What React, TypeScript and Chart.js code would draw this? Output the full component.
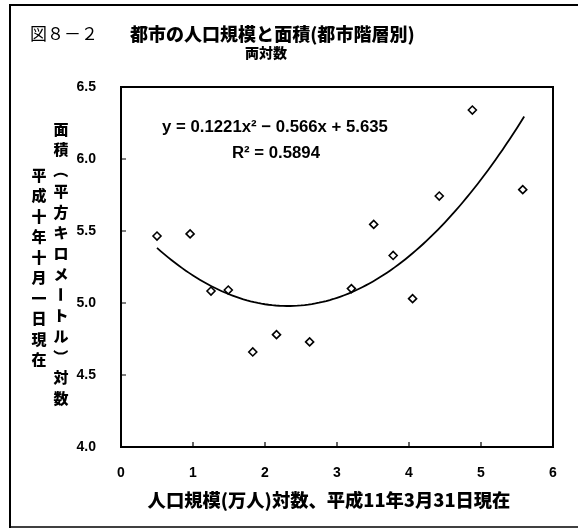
import React, { useEffect, useRef } from "react";
import { Chart, registerables } from "chart.js";
Chart.register(...registerables);

// Data (log population, log area)
const cityX = [0.5, 0.96, 1.25, 1.49, 1.83, 2.16, 2.62, 3.2, 3.51, 3.78, 4.05, 4.42, 4.88, 5.58];
const cityY = [5.465, 5.48, 5.083, 5.09, 4.66, 4.78, 4.73, 5.1, 5.546, 5.33, 5.03, 5.743, 6.34, 5.787];
// Polynomial trendline coefficients: a*x^2 + b*x + c
const trendA = 0.1221;
const trendB = -0.566;
const trendC = 5.635;
const trendFrom = 0.5;
const trendTo = 5.6;

const xMin = 0, xMax = 6, xStep = 1;
const yMin = 4.0, yMax = 6.5, yStep = 0.5;

const titlePrefix = "図８－２";
const titleMain = "都市の人口規模と面積(都市階層別)";
const subTitle = "両対数";
const yLabelCol1 = ["面", "積", "（", "平", "方", "キ", "ロ", "メ", "ー", "ト", "ル", "）", "対", "数"];
const yLabelCol2 = ["平", "成", "十", "年", "十", "月", "一", "日", "現", "在"];
const rotateChars = ["（", "）", "ー"];
const xLabel = "人口規模(万人)対数、平成11年3月31日現在";
const eqText = "y = 0.1221x² − 0.566x + 5.635";
const r2Text = "R² = 0.5894";

const JP = '"Noto Sans CJK JP", sans-serif';
const NUM = '"Liberation Sans", Arial, sans-serif';

function fitFont(ctx: CanvasRenderingContext2D, text: string, weight: string, family: string, base: number, target: number) {
  ctx.font = `${weight} ${base}px ${family}`;
  const w = ctx.measureText(text).width;
  const size = base * target / w;
  ctx.font = `${weight} ${size}px ${family}`;
}

function vChar(ctx: CanvasRenderingContext2D, c: string, x: number, y: number) {
  if (rotateChars.includes(c)) {
    ctx.save();
    ctx.translate(x, y);
    ctx.rotate(Math.PI / 2);
    ctx.fillText(c, 0, 0);
    ctx.restore();
  } else {
    ctx.fillText(c, x, y);
  }
}

const decor = {
  id: "decor",
  afterDraw(chart: any) {
    const ctx: CanvasRenderingContext2D = chart.ctx;
    const area = chart.chartArea;
    const xs = chart.scales.x;
    const ys = chart.scales.y;
    ctx.save();
    // Outer frame
    ctx.strokeStyle = "#000";
    ctx.lineWidth = 2;
    ctx.beginPath();
    ctx.moveTo(10, 528);
    ctx.lineTo(10, 5);
    ctx.lineTo(578, 5);
    ctx.stroke();
    ctx.lineWidth = 1.5;
    ctx.beginPath();
    ctx.moveTo(10, 527);
    ctx.lineTo(578, 527);
    ctx.stroke();

    // Plot box
    ctx.lineWidth = 2;
    ctx.strokeRect(area.left, area.top, area.right - area.left, area.bottom - area.top);
    // Inward ticks
    ctx.lineWidth = 1.2;
    ctx.beginPath();
    for (let v = xMin + xStep; v < xMax; v += xStep) {
      const px = xs.getPixelForValue(v);
      ctx.moveTo(px, area.bottom);
      ctx.lineTo(px, area.bottom - 5);
    }
    for (let v = yMin + yStep; v < yMax - 1e-9; v += yStep) {
      const py = ys.getPixelForValue(v);
      ctx.moveTo(area.left, py);
      ctx.lineTo(area.left + 5, py);
    }
    ctx.stroke();

    ctx.fillStyle = "#000";
    ctx.textBaseline = "middle";
    // Title
    ctx.textAlign = "left";
    ctx.font = `400 17px ${JP}`;
    ctx.fillText(titlePrefix, 30, 34);
    fitFont(ctx, titleMain, "900", JP, 18, 285);
    ctx.fillText(titleMain, 130, 34);
    ctx.textAlign = "center";
    ctx.font = `900 14px ${JP}`;
    ctx.fillText(subTitle, 266, 53);

    // Vertical y-axis labels
    ctx.font = `900 15px ${JP}`;
    yLabelCol1.forEach((c, i) => vChar(ctx, c, 61, 129 + i * 20.7));
    yLabelCol2.forEach((c, i) => vChar(ctx, c, 39, 175 + i * 20.5));

    // X-axis title
    fitFont(ctx, xLabel, "900", JP, 16, 363);
    ctx.fillText(xLabel, 329, 500);

    // Equation
    fitFont(ctx, eqText, "700", NUM, 14, 226);
    ctx.fillText(eqText, 275, 127);
    fitFont(ctx, r2Text, "700", NUM, 14, 88);
    ctx.fillText(r2Text, 276, 153);
    ctx.restore();
  },
};

export default function App() {
  const ref = useRef<HTMLCanvasElement>(null);
  useEffect(() => {
    document.body.style.margin = "0";
    const pts = cityX.map((x, i) => ({ x, y: cityY[i] }));
    const trend: { x: number; y: number }[] = [];
    for (let x = trendFrom; x <= trendTo + 1e-9; x += 0.05) {
      trend.push({ x, y: trendA * x * x + trendB * x + trendC });
    }
    const chart = new Chart(ref.current!, {
      type: "scatter",
      data: {
        datasets: [
          {
            label: "trend",
            data: trend,
            showLine: true,
            borderColor: "#000",
            borderWidth: 1.8,
            pointRadius: 0,
            tension: 0,
            fill: false,
          } as any,
          {
            label: "cities",
            data: pts,
            pointStyle: "rectRot",
            pointRadius: 4,
            pointBorderWidth: 1.6,
            pointBorderColor: "#000",
            pointBackgroundColor: "#fff",
            showLine: false,
          } as any,
        ],
      },
      options: {
        animation: false,
        responsive: false,
        devicePixelRatio: 1,
        layout: { padding: { top: 87, right: 25, left: 0, bottom: 0 } },
        plugins: { legend: { display: false }, tooltip: { enabled: false }, title: { display: false } },
        scales: {
          x: {
            type: "linear",
            min: xMin,
            max: xMax,
            ticks: { stepSize: xStep, padding: 18, color: "#000", font: { family: NUM, size: 14, weight: "bold" } },
            grid: { display: false, drawTicks: false },
            border: { display: false },
            afterFit: (s: any) => { s.height = 82; },
          },
          y: {
            type: "linear",
            min: yMin,
            max: yMax,
            ticks: {
              stepSize: yStep,
              padding: 25,
              color: "#000",
              font: { family: NUM, size: 14, weight: "bold" },
              callback: (v: any) => Number(v).toFixed(1),
            },
            grid: { display: false, drawTicks: false },
            border: { display: false },
            afterFit: (s: any) => { s.width = 121; },
          },
        },
      },
      plugins: [decor],
    });
    return () => chart.destroy();
  }, []);
  return (
    <div style={{ width: 578, height: 529, background: "#fff" }}>
      <canvas ref={ref} width={578} height={529} style={{ display: "block" }} />
    </div>
  );
}
